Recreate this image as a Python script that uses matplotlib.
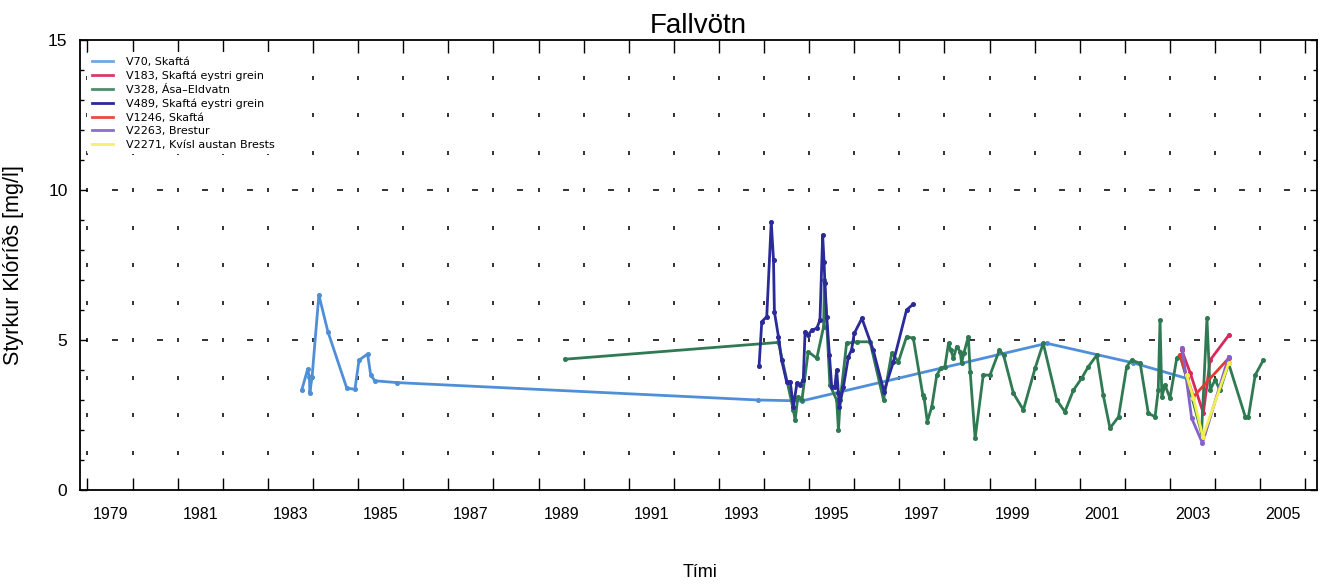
import numpy as np
import matplotlib
matplotlib.use("Agg")
import matplotlib.pyplot as plt
from matplotlib.ticker import FixedLocator, NullFormatter, FixedFormatter

# ---------------- data ----------------
v70_t = [1983.75, 1983.88, 1983.92, 1983.93, 1983.98, 1984.13, 1984.33, 1984.75, 1984.93,
         1985.02, 1985.21, 1985.28, 1985.37, 1985.86, 1993.87, 1994.84, 2000.27, 2002.18, 2003.37]
v70_c = [3.33, 4.02, 3.78, 3.24, 3.78, 6.50, 5.28, 3.39, 3.36,
         4.33, 4.53, 3.83, 3.64, 3.58, 3.00, 2.97, 4.89, 4.24, 3.72]

v183_t = [2003.26, 2003.45, 2003.74, 2003.89, 2004.31]
v183_c = [4.67, 3.90, 2.56, 4.33, 5.17]

v328_t = [1989.59, 1994.32, 1994.65, 1994.69, 1994.75, 1994.84, 1994.98, 1995.17, 1995.32, 1995.34,
          1995.46, 1995.61, 1995.65, 1995.69, 1995.83, 1996.06, 1996.35, 1996.65, 1996.83, 1996.98,
          1997.16, 1997.31, 1997.52, 1997.55, 1997.62, 1997.72, 1997.83, 1997.92, 1998.01, 1998.09,
          1998.14, 1998.20, 1998.27, 1998.35, 1998.38, 1998.43, 1998.53, 1998.57, 1998.68, 1998.86,
          1999.01, 1999.22, 1999.31, 1999.53, 1999.75, 2000.01, 2000.19, 2000.49, 2000.67, 2000.86,
          2001.04, 2001.19, 2001.38, 2001.52, 2001.67, 2001.86, 2002.04, 2002.15, 2002.34, 2002.52,
          2002.67, 2002.74, 2002.78, 2002.82, 2002.89, 2003.00, 2003.15, 2003.22, 2003.45, 2003.70,
          2003.82, 2003.89, 2004.00, 2004.11, 2004.30, 2004.67, 2004.74, 2004.89, 2005.07]
v328_c = [4.36, 4.92, 2.67, 2.33, 3.11, 3.00, 4.61, 4.39, 5.44, 7.00,
          3.50, 3.00, 2.00, 3.00, 4.89, 4.94, 4.94, 3.00, 4.56, 4.28,
          5.11, 5.06, 3.17, 3.06, 2.28, 2.78, 3.83, 4.06, 4.11, 4.89,
          4.67, 4.39, 4.78, 4.61, 4.22, 4.56, 5.11, 3.94, 1.72, 3.83,
          3.83, 4.67, 4.50, 3.22, 2.67, 4.06, 4.89, 3.00, 2.61, 3.33,
          3.72, 4.11, 4.50, 3.17, 2.06, 2.44, 4.11, 4.33, 4.22, 2.56,
          2.44, 3.33, 5.67, 3.11, 3.50, 3.06, 4.39, 4.50, 3.30, 1.90,
          5.72, 3.33, 3.67, 3.33, 4.22, 2.44, 2.44, 3.83, 4.33]

v489_t = [1993.89, 1993.95, 1994.06, 1994.16, 1994.21, 1994.23, 1994.32, 1994.39, 1994.50, 1994.58,
          1994.65, 1994.73, 1994.80, 1994.87, 1994.91, 1994.98, 1995.06, 1995.17, 1995.24, 1995.30,
          1995.33, 1995.35, 1995.39, 1995.45, 1995.50, 1995.57, 1995.61, 1995.65, 1995.67, 1995.76,
          1995.87, 1995.94, 1996.00, 1996.17, 1996.42, 1996.66, 1996.87, 1997.16, 1997.31]
v489_c = [4.13, 5.61, 5.78, 8.94, 7.67, 5.94, 5.11, 4.33, 3.61, 3.61,
          2.78, 3.56, 3.50, 3.67, 5.28, 5.17, 5.33, 5.39, 5.67, 8.50,
          7.61, 6.89, 5.78, 4.50, 3.44, 3.44, 4.00, 3.22, 2.78, 3.44,
          4.44, 4.67, 5.22, 5.72, 4.67, 3.28, 4.28, 6.00, 6.20]

v1246_t = [2003.22, 2003.52, 2004.30]
v1246_c = [4.50, 3.11, 4.39]

v2263_t = [2003.27, 2003.48, 2003.72, 2004.30]
v2263_c = [4.75, 2.40, 1.56, 4.44]

v2271_t = [2003.37, 2003.52, 2003.73, 2004.30]
v2271_c = [3.83, 3.06, 1.78, 4.22]

labels = ["V70, Skaftá", "V183, Skaftá eystri grein", "V328, Ása\u2013Eldvatn",
          "V489, Skaftá eystri grein", "V1246, Skaftá", "V2263, Brestur",
          "V2271, Kvísl austan Brests"]
colors = ["#4f8fd8", "#d8285c", "#2f7a52", "#2a2a98", "#e43a32", "#8462cc", "#f2f04a"]
legend_colors = ["#70a8e2", "#dc3a68", "#4f8c6c", "#2a2a98", "#e84a44", "#8a70cc", "#f4f070"]

year_ticks = list(range(1979, 2007))
label_years = list(range(1979, 2006, 2))

# ---------------- figure ----------------
fig = plt.figure(figsize=(13.29, 5.87), dpi=100)
ax = fig.add_axes([80 / 1329, 1 - 490 / 587, 1237 / 1329, 450 / 587])

xmin, xmax = 1978.834, 2006.26
ax.set_xlim(xmin, xmax)
ax.set_ylim(0, 15)

# sparse dotted grid (remnants of dotted grid lines)
gy = [1.25 * k for k in range(1, 12) if k not in (4, 8)]
GX, GY = np.meshgrid(year_ticks, gy)
ax.plot(GX.ravel(), GY.ravel(), ls="none", marker="|", ms=3.5, mew=1.3, color="#222222", zorder=1)
ax.plot(year_ticks, [5] * len(year_ticks), ls="none", marker="|", ms=3.5, mew=1.3, color="#222222", zorder=1)
ax.plot(year_ticks, [10] * len(year_ticks), ls="none", marker="|", ms=3.5, mew=1.3, color="#222222", zorder=1)
half = [y + 0.6 for y in year_ticks[:-1]]
ax.plot(half, [5] * len(half), ls="none", marker="_", ms=5, mew=1.3, color="#222222", zorder=1)
ax.plot(half, [10] * len(half), ls="none", marker="_", ms=5, mew=1.3, color="#222222", zorder=1)

series = [(v70_t, v70_c), (v183_t, v183_c), (v328_t, v328_c), (v489_t, v489_c),
          (v1246_t, v1246_c), (v2263_t, v2263_c), (v2271_t, v2271_c)]
order = [0, 2, 3, 1, 4, 5, 6]
for i in order:
    t, c = series[i]
    ax.plot(t, c, color=colors[i], lw=2.0, marker="o", ms=2.6, zorder=3 + i * 0.1)

# legend with proxy lines
handles = [plt.Line2D([], [], color=legend_colors[i], lw=2.0) for i in range(7)]
leg = ax.legend(handles, labels, loc="upper left", bbox_to_anchor=(0.004, 0.978),
                fontsize=8, frameon=True, handlelength=1.9, handletextpad=1.2,
                labelspacing=0.32, borderpad=0.4, borderaxespad=0.2)
leg.get_frame().set_facecolor("white")
leg.get_frame().set_edgecolor("none")
leg.get_frame().set_alpha(1.0)
leg.set_zorder(10)

# ticks
ax.xaxis.set_major_locator(FixedLocator(year_ticks))
ax.xaxis.set_major_formatter(NullFormatter())
ax.xaxis.set_minor_locator(FixedLocator([y + 0.5 for y in label_years]))
ax.xaxis.set_minor_formatter(FixedFormatter([str(y) for y in label_years]))
ax.tick_params(axis="x", which="major", direction="in", length=9, width=1.0, top=True, bottom=True)
ax.tick_params(axis="x", which="minor", length=0, pad=12, labelsize=11.5)
for lab in ax.xaxis.get_minorticklabels():
    lab.set_family("Liberation Sans")

ax.yaxis.set_major_locator(FixedLocator([0, 5, 10, 15]))
ax.yaxis.set_minor_locator(FixedLocator(list(range(0, 16))))
ax.tick_params(axis="y", which="major", direction="in", length=5, width=1.0, left=True, right=True,
               labelsize=12.5, pad=9)
ax.tick_params(axis="y", which="minor", direction="in", length=3, width=1.0, left=True, right=True)
for lab in ax.yaxis.get_majorticklabels():
    lab.set_family("Liberation Sans")

for s in ax.spines.values():
    s.set_linewidth(1.3)

ax.set_title("Fallvötn", fontsize=20, family="Liberation Sans", pad=5)
ax.set_ylabel("Styrkur Klóríðs [mg/l]", fontsize=15.5, family="Liberation Sans")
ax.yaxis.set_label_coords(-0.045, 0.5)
ax.set_xlabel("Tími", fontsize=13, family="Liberation Sans")
ax.xaxis.set_label_coords(0.501, -0.165)

fig.savefig("out.png", dpi=100)
